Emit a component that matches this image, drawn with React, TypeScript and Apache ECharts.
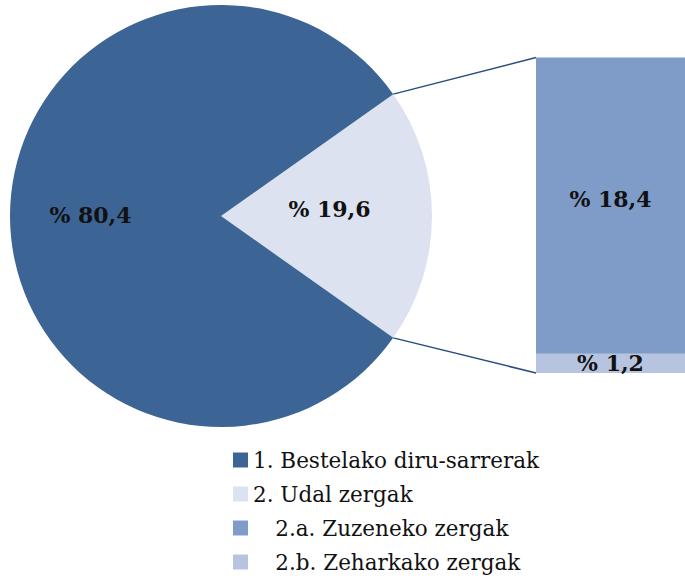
import React, { useEffect, useRef } from "react";
import * as echarts from "echarts";

const pieNames = ["1. Bestelako diru-sarrerak", "2. Udal zergak"];
const pieValues = [80.4, 19.6];
const barNames = ["\u00a0\u00a0\u2009\u2009 2.a. Zuzeneko zergak".replace(" 2", "2"), "\u00a0\u00a0\u2009\u2009 2.b. Zeharkako zergak".replace(" 2", "2")];
const barValues = [18.4, 1.2];
const pieColors = ["#3C6595", "#DCE2EF"];
const barColors = ["#7F9CC9", "#B6C4E0"];

const fmt = (v: number) => "% " + v.toFixed(1).replace(".", ",");

export default function App() {
  const ref = useRef<HTMLDivElement>(null);
  useEffect(() => {
    const chart = echarts.init(ref.current!, null, { renderer: "svg" });
    const cx = 221, cy = 216, r = 211;
    const half = ((pieValues[1] / (pieValues[0] + pieValues[1])) * 360) / 2;
    const rad = (half * Math.PI) / 180;
    const px = cx + r * Math.cos(rad);
    const pyTop = cy - r * Math.sin(rad);
    const pyBot = cy + r * Math.sin(rad);
    const gLeft = 536, gTop = 57.5, gH = 315.5, gW = 149;
    const total = barValues[0] + barValues[1];
    const font = "'DejaVu Serif', serif";
    const lbl = { fontFamily: font, fontWeight: "bold", fontSize: 22, color: "#111" };
    chart.setOption({
      animation: false,
      grid: { left: gLeft, top: gTop, width: gW, height: gH },
      xAxis: { type: "category", data: [""], show: false },
      yAxis: { type: "value", min: 0, max: total, show: false },
      legend: {
        orient: "vertical",
        left: 228,
        top: 444,
        height: 140,
        itemWidth: 15,
        itemHeight: 15,
        itemGap: 12,
        icon: "rect",
        data: [pieNames[0], pieNames[1], barNames[0], barNames[1]],
        textStyle: { fontFamily: font, fontSize: 21.5, color: "#111" },
      },
      series: [
        {
          type: "pie",
          center: [cx, cy],
          radius: r,
          startAngle: half,
          clockwise: true,
          data: [
            { name: pieNames[1], value: pieValues[1], itemStyle: { color: pieColors[1] } },
            { name: pieNames[0], value: pieValues[0], itemStyle: { color: pieColors[0] } },
          ],
          label: { show: true, position: "inside", formatter: (p: any) => fmt(p.value), ...lbl },
          labelLayout: (p: any) => (p.dataIndex === 1 ? { dx: -22, dy: -1 } : { dx: 0, dy: -7 }),
          labelLine: { show: false },
          emphasis: { disabled: true },
        },
        {
          type: "bar",
          name: barNames[1],
          stack: "s",
          barWidth: "100%",
          data: [barValues[1]],
          itemStyle: { color: barColors[1] },
          label: { show: true, position: "inside", formatter: (p: any) => fmt(p.value), ...lbl },
        },
        {
          type: "bar",
          name: barNames[0],
          stack: "s",
          barWidth: "100%",
          data: [barValues[0]],
          itemStyle: { color: barColors[0] },
          label: { show: true, position: "inside", offset: [0, -7], formatter: (p: any) => fmt(p.value), ...lbl },
        },
      ],
      graphic: [
        { type: "line", shape: { x1: px, y1: pyTop, x2: gLeft, y2: gTop }, style: { stroke: "#2A4C7E", lineWidth: 1.5 } },
        { type: "line", shape: { x1: px, y1: pyBot, x2: gLeft, y2: gTop + gH }, style: { stroke: "#2A4C7E", lineWidth: 1.5 } },
      ],
    });
    return () => chart.dispose();
  }, []);
  return <div ref={ref} style={{ position: "absolute", left: 0, top: 0, width: 685, height: 579 }} />;
}
